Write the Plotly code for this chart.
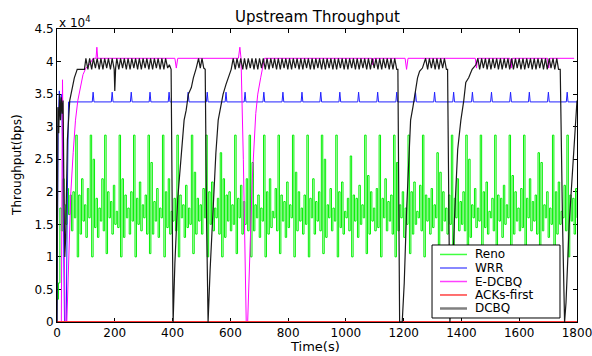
import plotly.graph_objects as go

# ---------------- data (throughput in units of 1e4 bps) ----------------
x_ticks = [0, 200, 400, 600, 800, 1000, 1200, 1400, 1600, 1800]
y_ticks = [0, 0.5, 1, 1.5, 2, 2.5, 3, 3.5, 4, 4.5]
y_tick_text = ["0", "0.5", "1", "1.5", "2", "2.5", "3", "3.5", "4", "4.5"]

series_names = ["Reno", "WRR", "E-DCBQ", "ACKs-first", "DCBQ"]
series_colors = ["#00f000", "#2020ff", "#ff00ff", "#ff3030", "#1a1a1a"]
legend_colors = ["#40ff40", "#6060ff", "#ff40ff", "#ff4040", "#808080"]

# Reno: sampled every 5 s
reno_t = list(range(0, 1801, 5))
reno_v = [
    0.35, 0.6, 1.75, 1.4, 2.2, 1.8, 1.5, 2.05, 1.65, 1.95, 1.4, 2.0, 1.6,
    2.87, 1.0, 1.95, 1.35, 2.2, 1.55, 1.8, 1.3, 2.05, 1.6,
    2.87, 1.0, 2.5, 1.45, 1.9, 1.3, 1.75, 1.55, 2.2, 1.4,
    2.87, 1.05, 2.0, 1.6, 1.85, 1.35, 2.1, 1.5, 1.7, 1.45,
    2.87, 1.0, 2.2, 1.3, 1.95, 1.6, 1.75, 1.35, 2.0, 1.55,
    2.87, 1.0, 1.9, 1.5, 2.15, 1.4, 1.8, 1.6, 1.95, 1.35,
    2.87, 1.05, 2.45, 1.35, 1.85, 1.55, 2.05, 1.3, 1.75, 1.6,
    2.87, 1.0, 2.0, 1.45, 2.2, 1.35, 1.7, 1.55, 1.9, 1.4,
    2.87, 1.0, 1.95, 1.6, 1.8, 1.3, 2.1, 1.45, 1.75, 1.5,
    2.87, 1.05, 2.3, 1.35, 1.9, 1.55, 1.8, 1.35, 2.05, 1.6,
    2.87, 1.0, 2.0, 1.5, 2.15, 1.4, 1.75, 1.6, 1.9, 1.35,
    2.6, 1.0, 2.2, 1.3, 1.95, 1.55, 2.0, 1.4, 1.8, 1.5,
    2.87, 1.05, 1.9, 1.6, 2.1, 1.35, 1.85, 1.5, 2.2, 1.4,
    2.87, 1.0, 2.45, 1.4, 1.8, 1.6, 1.95, 1.3, 1.75, 1.55,
    2.87, 1.0, 2.0, 1.35, 2.2, 1.45, 1.7, 1.6, 2.05, 1.4,
    2.87, 1.05, 1.95, 1.55, 1.85, 1.3, 2.15, 1.45, 1.8, 1.6,
    2.87, 1.0, 2.3, 1.4, 2.0, 1.55, 1.75, 1.35, 1.95, 1.5,
    2.87, 1.0, 1.9, 1.6, 2.2, 1.35, 1.85, 1.55, 2.0, 1.4,
    2.87, 1.05, 2.5, 1.3, 1.8, 1.6, 2.05, 1.4, 1.75, 1.55,
    2.87, 1.0, 2.0, 1.45, 2.15, 1.35, 1.7, 1.6, 1.9, 1.4,
    2.55, 1.0, 1.95, 1.55, 1.9, 1.3, 2.1, 1.5, 1.8, 1.6,
    2.87, 1.05, 2.25, 1.35, 2.0, 1.55, 1.75, 1.4, 2.05, 1.45,
    2.87, 1.0, 1.9, 1.6, 2.2, 1.4, 1.85, 1.55, 1.95, 1.35,
    2.87, 1.0, 2.45, 1.4, 1.8, 1.6, 2.0, 1.3, 1.75, 1.5,
    2.87, 1.05, 2.0, 1.35, 2.15, 1.5, 1.7, 1.6, 2.1, 1.4,
    2.87, 1.0, 1.95, 1.55, 1.9, 1.35, 2.05, 1.45, 1.8, 1.6,
    2.6, 1.0, 2.3, 1.4, 2.0, 1.55, 1.75, 1.35, 1.95, 1.5,
    2.87, 1.05, 1.9, 1.6, 2.2, 1.4, 1.85, 1.5, 2.0, 1.4,
    2.87, 1.0, 2.5, 1.3, 1.8, 1.6, 2.05, 1.45, 1.75, 1.55,
    2.87, 1.0, 2.0, 1.45, 2.15, 1.35, 1.7, 1.6, 1.9, 1.4,
    2.87, 1.05, 1.95, 1.55, 1.9, 1.3, 2.1, 1.5, 1.8, 1.6,
    2.87, 1.0, 2.25, 1.35, 2.0, 1.55, 1.75, 1.4, 2.05, 1.45,
    2.87, 1.0, 1.9, 1.6, 2.2, 1.4, 1.85, 1.55, 1.95, 1.35,
    2.6, 1.05, 2.45, 1.4, 1.8, 1.6, 2.0, 1.3, 1.75, 1.5,
    2.87, 1.0, 2.0, 1.35, 2.15, 1.5, 1.7, 1.6, 2.1, 1.4,
    2.87, 1.0, 1.95, 1.55, 1.9, 1.35, 2.05, 1.6,
]

# WRR
wrr_t = [0, 4, 8, 12, 16, 20, 26, 32, 36, 40,
         122, 125, 128, 188, 191, 194, 254, 257, 260, 319, 322, 325,
         385, 388, 391, 451, 454, 457, 517, 520, 523, 582, 585, 588,
         648, 651, 654, 713, 716, 719, 779, 782, 785, 845, 848, 851,
         910, 913, 916, 976, 979, 982, 1041, 1044, 1047, 1107, 1110, 1113,
         1173, 1176, 1179, 1238, 1241, 1244, 1304, 1307, 1310, 1370, 1373, 1376,
         1435, 1438, 1441, 1501, 1504, 1507, 1567, 1570, 1573, 1632, 1635, 1638,
         1698, 1701, 1704, 1763, 1766, 1769, 1800]
wrr_v = [0, 3.0, 3.55, 3.3, 3.5, 2.5, 0, 0, 2.0, 3.38,
         3.38, 3.53, 3.38, 3.38, 3.53, 3.38, 3.38, 3.53, 3.38, 3.38, 3.53, 3.38,
         3.38, 3.53, 3.38, 3.38, 3.53, 3.38, 3.38, 3.53, 3.38, 3.38, 3.53, 3.38,
         3.38, 3.53, 3.38, 3.38, 3.53, 3.38, 3.38, 3.53, 3.38, 3.38, 3.53, 3.38,
         3.38, 3.53, 3.38, 3.38, 3.53, 3.38, 3.38, 3.53, 3.38, 3.38, 3.53, 3.38,
         3.38, 3.53, 3.38, 3.38, 3.53, 3.38, 3.38, 3.53, 3.38, 3.38, 3.53, 3.38,
         3.38, 3.53, 3.38, 3.38, 3.53, 3.38, 3.38, 3.53, 3.38, 3.38, 3.53, 3.38,
         3.38, 3.53, 3.38, 3.38, 3.53, 3.38, 3.38]

# E-DCBQ
edcbq_t = [0, 15, 19, 23, 28, 34, 40, 48, 56, 64, 72, 80, 90, 100, 112, 125, 135, 138, 141,
           408, 413, 418, 628, 633, 637, 645, 655, 660, 668, 676, 688, 695, 705, 712, 718,
           1090, 1093, 1096, 1205, 1210, 1215, 1448, 1452, 1456, 1568, 1572, 1576,
           1698, 1702, 1706, 1790]
edcbq_v = [0, 0, 3.72, 1.5, 0, 0, 1.0, 2.0, 2.6, 3.1, 3.4, 3.6, 3.8, 3.9, 3.95, 4.05, 4.05, 4.22, 4.05,
           4.05, 3.9, 4.05, 4.05, 4.22, 4.05, 2.5, 0, 0, 1.0, 2.2, 3.2, 3.5, 3.75, 3.9, 4.05,
           4.05, 3.95, 4.05, 4.05, 3.88, 4.05, 4.05, 3.9, 4.05, 4.05, 3.9, 4.05,
           4.05, 3.9, 4.05, 4.05]

# ACKs-first
acks_t = [0, 1800]
acks_v = [0, 0]

# DCBQ
dcbq_t = [0, 3, 6, 9, 12, 15, 18, 21, 24, 27, 30, 36, 44, 52, 60, 70, 95,
          100, 107, 113, 120, 126, 133, 139, 146, 152, 159, 165, 172, 178, 185, 191, 198, 200, 203,
          207, 214, 220, 227, 233, 240, 246, 253, 259, 266, 272, 279, 285, 292, 298, 305,
          311, 318, 324, 331, 337, 344, 350, 357, 363, 370, 376, 383, 389, 395,
          402, 408, 418, 428, 440, 447, 455, 465, 472, 482, 490, 496, 502, 508, 513, 518,
          523, 530, 540, 550, 558, 566, 575, 585, 595, 603,
          610, 617, 623, 630, 636, 643, 649, 656, 662, 669, 675, 682, 688, 695, 701, 708,
          714, 721, 727, 734, 740, 747, 753, 760, 766, 773, 779, 786, 792, 799, 805, 812,
          818, 825, 831, 838, 844, 851, 857, 864, 870, 877, 883, 890, 896, 903, 909, 916,
          922, 929, 935, 942, 948, 955, 961, 968, 974, 981, 987, 994, 1000, 1007, 1013, 1020,
          1026, 1033, 1039, 1046, 1052, 1059, 1065, 1072, 1078, 1085, 1091, 1098, 1104, 1111,
          1117, 1124, 1130, 1137, 1143, 1150, 1156, 1163, 1169, 1176, 1180,
          1186, 1195, 1202, 1210, 1218, 1224, 1232, 1240, 1248, 1255, 1265,
          1276, 1283, 1289, 1296, 1302, 1309, 1315, 1322, 1328, 1335, 1341, 1348, 1352,
          1360, 1368, 1376, 1387, 1398, 1408, 1415, 1425, 1437, 1450,
          1457, 1463, 1470, 1476, 1483, 1489, 1496, 1502, 1509, 1515, 1522, 1528, 1535, 1541,
          1548, 1554, 1561, 1567, 1574, 1580, 1587, 1593, 1600, 1606, 1613, 1619, 1626, 1632,
          1639, 1645, 1652, 1658, 1665, 1671, 1678, 1684, 1691, 1697, 1704, 1710, 1717, 1723,
          1730, 1736, 1742, 1750, 1757, 1762, 1768, 1773, 1780, 1788, 1795, 1800]
dcbq_v = [0, 3.3, 2.9, 3.5, 3.1, 3.45, 3.2, 3.4, 2.0, 1.0, 1.3, 2.8, 3.4, 3.6, 3.75, 3.88, 3.88,
          4.05, 3.88, 4.05, 3.88, 4.05, 3.9, 4.05, 3.88, 4.05, 3.88, 4.05, 3.9, 4.05, 3.88, 4.05, 3.88, 3.55, 3.9,
          4.05, 3.88, 4.05, 3.9, 4.05, 3.88, 4.05, 3.88, 4.05, 3.9, 4.05, 3.88, 4.05, 3.88, 4.05, 3.9,
          4.05, 3.88, 4.05, 3.88, 4.05, 3.9, 4.05, 3.88, 4.05, 3.88, 4.05, 3.9, 3.95, 3.88,
          0, 0.9, 1.9, 2.5, 3.1, 3.25, 3.5, 3.6, 3.75, 3.9, 4.05, 3.9, 4.05, 3.9, 3.88, 1.5,
          0, 0.8, 1.8, 2.6, 3.1, 3.3, 3.5, 3.65, 3.8, 3.88,
          4.05, 3.88, 4.05, 3.9, 4.05, 3.88, 4.05, 3.88, 4.05, 3.9, 4.05, 3.88, 4.05, 3.88, 4.05, 3.9,
          4.05, 3.88, 4.05, 3.88, 4.05, 3.9, 4.05, 3.88, 4.05, 3.88, 4.05, 3.9, 4.05, 3.88, 4.05, 3.88,
          4.05, 3.9, 4.05, 3.88, 4.05, 3.88, 4.05, 3.9, 4.05, 3.88, 4.05, 3.88, 4.05, 3.9, 4.05, 3.88,
          4.05, 3.88, 4.05, 3.9, 4.05, 3.88, 4.05, 3.88, 4.05, 3.9, 4.05, 3.88, 4.05, 3.88, 4.05, 3.9,
          4.05, 3.88, 4.05, 3.88, 4.05, 3.9, 4.05, 3.88, 4.05, 3.88, 4.05, 3.9, 4.05, 3.88,
          4.05, 3.88, 4.05, 3.9, 4.05, 3.88, 4.05, 3.88, 4.05, 3.88, 3.88,
          0, 0, 0.6, 1.7, 2.6, 3.1, 3.3, 3.55, 3.75, 3.85, 3.9,
          4.05, 3.88, 4.05, 3.9, 4.05, 3.88, 4.05, 3.88, 4.05, 3.9, 4.05, 3.88, 3.88,
          0, 0.6, 1.6, 2.65, 3.1, 3.4, 3.68, 3.75, 3.88, 3.95,
          4.05, 3.88, 4.05, 3.9, 4.05, 3.88, 4.05, 3.88, 4.05, 3.9, 4.05, 3.88, 4.05, 3.88,
          4.05, 3.9, 4.05, 3.88, 4.05, 3.88, 4.05, 3.9, 4.05, 3.88, 4.05, 3.88, 4.05, 3.9,
          4.05, 3.88, 4.05, 3.88, 4.05, 3.9, 4.05, 3.88, 4.05, 3.88, 4.05, 3.9, 4.05, 3.88,
          4.05, 3.88, 3.88, 1.5, 0, 0.3, 1.0, 1.5, 2.0, 2.6, 3.0, 3.4]

series_t = [reno_t, wrr_t, edcbq_t, acks_t, dcbq_t]
series_v = [reno_v, wrr_v, edcbq_v, acks_v, dcbq_v]
series_width = [1, 1, 1, 2, 1.2]
series_shape = ["hv", "linear", "linear", "linear", "linear"]

# ---------------- figure ----------------
FONT = "DejaVu Sans"
fig = go.Figure()
for name, t, v, c, w, s in zip(series_names, series_t, series_v, series_colors,
                               series_width, series_shape):
    fig.add_trace(go.Scatter(x=t, y=v, name=name, mode="lines", showlegend=False,
                             line=dict(color=c, width=w, shape=s)))

axis_common = dict(showline=True, linecolor="black", linewidth=1, mirror="ticks",
                   ticks="inside", ticklen=4, tickcolor="black", showgrid=False,
                   zeroline=False, tickfont=dict(family=FONT, size=12, color="black"),
                   layer="below traces", ticklabeloverflow="allow", automargin=False)

# Legend box drawn in paper coordinates (compact, MATLAB-like)
leg_x0, leg_x1, leg_y0, leg_y1 = 0.7212, 0.9673, 0.0137, 0.2628
leg_line_x0, leg_line_x1, leg_text_x = 0.7365, 0.7885, 0.8020
leg_rows = [0.2305, 0.1843, 0.1382, 0.0922, 0.0461]
leg_widths = [1.5, 1.5, 1.5, 1.5, 2.5]

shapes = [dict(type="rect", xref="paper", yref="paper", x0=leg_x0, x1=leg_x1,
               y0=leg_y0, y1=leg_y1, line=dict(color="black", width=1),
               fillcolor="white", layer="above")]
annotations = []
for name, col, yy, lw in zip(series_names, legend_colors, leg_rows, leg_widths):
    shapes.append(dict(type="line", xref="paper", yref="paper", x0=leg_line_x0,
                       x1=leg_line_x1, y0=yy, y1=yy, line=dict(color=col, width=lw),
                       layer="above"))
    annotations.append(dict(text=name, x=leg_text_x, y=yy, xref="paper", yref="paper",
                            xanchor="left", yanchor="middle", showarrow=False, borderpad=0,
                            font=dict(family=FONT, size=12, color="black")))

annotations += [
    dict(text="Upstream Throughput", x=0.5, y=1.041, xref="paper", yref="paper",
         xanchor="center", yanchor="middle", showarrow=False,
         font=dict(family=FONT, size=15, color="black")),
    dict(text="x 10<sup>4</sup>", x=0.0, y=0.99, xref="paper", yref="paper",
         xanchor="left", yanchor="bottom", showarrow=False,
         font=dict(family=FONT, size=12, color="black")),
    dict(text="Time(s)", x=0.496, y=-0.085, xref="paper", yref="paper",
         xanchor="center", yanchor="middle", showarrow=False,
         font=dict(family=FONT, size=13, color="black")),
    dict(text="Throughput(bps)", x=-0.077, y=0.536, xref="paper", yref="paper",
         xanchor="center", yanchor="middle", showarrow=False, textangle=-90,
         font=dict(family=FONT, size=12, color="black")),
]

fig.update_layout(
    width=592, height=356,
    margin=dict(l=57, r=15, t=29, b=34, autoexpand=False),
    paper_bgcolor="white", plot_bgcolor="white",
    font=dict(family=FONT, size=12, color="black"),
    xaxis=dict(range=[0, 1800], tickvals=x_ticks, **axis_common),
    yaxis=dict(range=[0, 4.5], tickvals=y_ticks, ticktext=y_tick_text, **axis_common),
    showlegend=False,
    shapes=shapes,
    annotations=annotations,
)

# remove the default 8 px page margin so the 592x356 figure fills the window
fig.write_html("out.html",
               config={"displayModeBar": False},
               post_script="document.body.style.margin='0';"
                           "document.body.style.overflow='hidden';")
